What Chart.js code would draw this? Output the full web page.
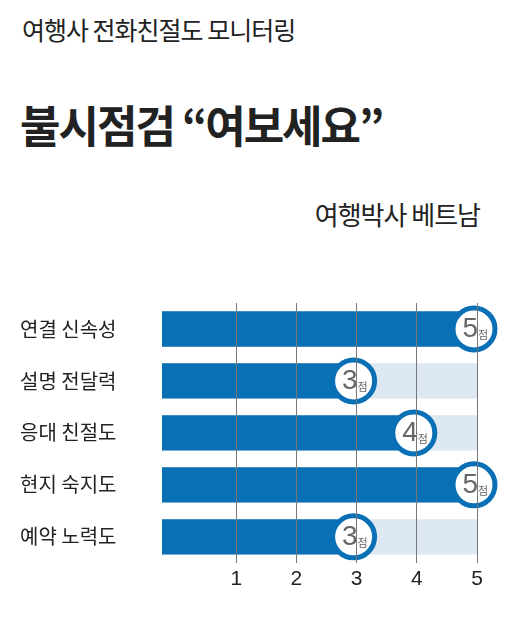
<!DOCTYPE html>
<html><head><meta charset="utf-8">
<script src="https://cdn.jsdelivr.net/npm/chart.js@4"></script>
<style>
body{margin:0;background:#fff;font-family:"Noto Sans CJK KR","Noto Sans",sans-serif;color:#222}
#wrap{position:relative;width:516px;height:626px}
canvas{position:absolute;left:0;top:0}
.t{position:absolute;white-space:nowrap}
</style></head><body>
<div id="wrap">
<div class="t" style="left:22px;top:11px;font-size:25px;letter-spacing:-1px">여행사 전화친절도 모니터링</div>
<div class="t" style="left:20px;top:92px;font-size:44px;font-weight:bold;letter-spacing:-2px">불시점검 “여보세요”</div>
<div class="t" style="right:36px;top:195px;font-size:26px;letter-spacing:-1px">여행박사 베트남</div>
<canvas id="c" width="516" height="626"></canvas>
</div>
<script>
const categories = ["연결 신속성", "설명 전달력", "응대 친절도", "현지 숙지도", "예약 노력도"];
const scores = [5, 3, 4, 5, 3];
const maxScore = [5, 5, 5, 5, 5];
const tickValues = [1, 2, 3, 4, 5];

const BLUE = "#0a70b6";
const AXIS_MIN = -0.233;

const badgePlugin = {
  id: "badge",
  afterDatasetsDraw(chart) {
    const ctx = chart.ctx;
    const meta = chart.getDatasetMeta(0);
    meta.data.forEach((bar, i) => {
      const x = bar.x - 3, y = bar.y;
      ctx.save();
      ctx.beginPath();
      ctx.arc(x, y, 21, 0, Math.PI * 2);
      ctx.fillStyle = "#fff";
      ctx.fill();
      ctx.lineWidth = 5;
      ctx.strokeStyle = BLUE;
      ctx.stroke();
      ctx.fillStyle = "#666";
      ctx.textBaseline = "middle";
      ctx.font = "28px 'Liberation Sans', Arial, sans-serif";
      ctx.textAlign = "right";
      ctx.fillText(String(scores[i]), x + 4, y);
      ctx.font = "11px 'Noto Sans CJK KR'";
      ctx.textAlign = "left";
      ctx.fillText("점", x + 4, y + 6);
      ctx.restore();
    });
  }
};

new Chart(document.getElementById("c"), {
  type: "bar",
  data: {
    labels: categories,
    datasets: [
      { data: scores, base: AXIS_MIN, backgroundColor: BLUE, order: 1 },
      { data: maxScore, base: AXIS_MIN, backgroundColor: "#dde8f3", order: 2 },
    ],
  },
  options: {
    indexAxis: "y",
    responsive: false,
    animation: false,
    events: [],
    layout: { padding: { top: 303, bottom: 30, left: 20, right: 39 } },
    datasets: { bar: { grouped: false, categoryPercentage: 0.68, barPercentage: 1 } },
    scales: {
      x: {
        min: AXIS_MIN, max: 5,
        afterBuildTicks: (a) => { a.ticks = tickValues.map(v => ({ value: v })); },
        grid: { color: "#777", lineWidth: 1, drawTicks: false, z: 1 },
        border: { display: false },
        ticks: { color: "#222", padding: 4, font: { size: 21, family: "'Liberation Sans', Arial" } },
      },
      y: {
        grid: { display: false },
        border: { display: false },
        afterFit: (a) => { a.width = 142; },
        ticks: { color: "#222", crossAlign: "far", padding: 0, font: { size: 20, family: "'Noto Sans CJK KR'" } },
      },
    },
    plugins: { legend: { display: false }, tooltip: { enabled: false } },
  },
  plugins: [badgePlugin],
});
</script>
</body></html>
